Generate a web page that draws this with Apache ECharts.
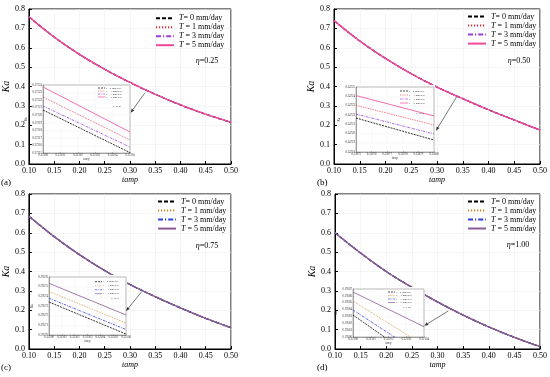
<!DOCTYPE html>
<html><head><meta charset="utf-8">
<script src="https://cdn.jsdelivr.net/npm/echarts@6/dist/echarts.min.js"></script>
<style>html,body{margin:0;padding:0;background:#fff}#c{width:550px;height:377px}</style>
</head><body><div id="c"></div>
<script>
// ---------- data ----------
const tamp = [0.10, 0.15, 0.20, 0.25, 0.30, 0.35, 0.40, 0.45, 0.50];
const kaA = [0.760, 0.655, 0.566, 0.489, 0.421, 0.360, 0.305, 0.257, 0.215]; // eta=0.25
const kaB = [0.740, 0.635, 0.545, 0.466, 0.397, 0.337, 0.280, 0.227, 0.175]; // eta=0.50
const kaC = [0.685, 0.580, 0.487, 0.405, 0.333, 0.270, 0.212, 0.158, 0.110]; // eta=0.75
const kaD = [0.600, 0.495, 0.400, 0.318, 0.243, 0.175, 0.114, 0.060, 0.012]; // eta=1.00
const tValues = ['0', '1', '3', '5'];
const etaLabels = ['0.25', '0.50', '0.75', '1.00'];
const panelLabels = ['(a)', '(b)', '(c)', '(d)'];
const xTicksMain = { min: 0.10, max: 0.50, step: 0.05 };
const yTicksMain = { min: 0.0, max: 0.8, step: 0.1 };

// zoomed insets: x ends, y values for T = 0, 1, 3, 5
const insAx = [0.33100, 0.33105];
const insA = { T0: [0.3722069, 0.3721505], T1: [0.3722241, 0.3721672], T3: [0.3722122, 0.3721579], T5: [0.3722374, 0.3721778] };
const insAy = { min: 0.37215, max: 0.37224 };
const insBx = [0.33875, 0.33880];
const insB = { T0: [0.3472166, 0.3471929], T1: [0.3472303, 0.3472091], T3: [0.3472209, 0.3471994], T5: [0.3472408, 0.3472188] };
const insBy = { min: 0.34718, max: 0.34725 };
const insCx = [0.32500, 0.32506];
const insC = { T0: [0.2957341, 0.2957010], T1: [0.2957450, 0.2957124], T3: [0.2957380, 0.2957057], T5: [0.2957535, 0.2957207] };
const insCy = { min: 0.29570, max: 0.29576 };
const insDx = [0.32100, 0.32104];
const insD = { T0: [0.1958321, 0.1957596], T1: [0.1958525, 0.1957876], T3: [0.1958394, 0.1957720], T5: [0.1958656, 0.1958150] };
const insDy = { min: 0.19580, max: 0.19587 };

// ---------- styling ----------
const FONT = 'Liberation Serif, "Times New Roman", serif';
const palAB = ['#000000', '#e8283c', '#9b3fd8', '#f0489a'];
const palCD = ['#000000', '#c8861a', '#3040e0', '#8a5a96'];
const dashMain = [[4, 2], [1.2, 1.8], [5, 2, 1.2, 2], 'solid'];
const dashIns = [[2, 1], [0.8, 1], [2.5, 1, 0.8, 1], 'solid'];

const mainGrids = [
  { left: 27, top: 9, width: 204, height: 155 },
  { left: 334, top: 9, width: 206, height: 155 },
  { left: 27, top: 194, width: 204, height: 155 },
  { left: 335, top: 194, width: 205, height: 155 }
];
const insetGrids = [
  { left: 43, top: 85, width: 87, height: 68 },
  { left: 356, top: 87, width: 78, height: 65 },
  { left: 49, top: 277, width: 77, height: 58 },
  { left: 353, top: 289, width: 71, height: 48 }
];
const insetBoxes = [[32, 83, 99, 75], [340, 85, 95, 73], [33, 275, 94, 71], [341, 287, 84, 58]];
const mainLegendPos = [[155, 13.7, 9.2], [467, 12.1, 9.2], [157, 197.1, 9.33], [467, 197, 9.6]];
// inset legend: icon x, first row y, row step, icon width
const insLegendPos = [[98, 88, 3, 7], [400, 91, 4, 8], [95, 281.7, 4, 7], [388, 292, 3.5, 7]];
const etaPos = [[207, 61], [519, 61], [207, 246], [518, 245]];
const insEtaPos = [[117, 106], [420, 113], [115, 298], [407, 307]];
const panelPos = [[1, 183], [317, 183], [1, 368], [317, 368]];
const arrows = [[145, 92.7, 130.7, 112.7], [456.7, 96.7, 436, 130.7], [141.7, 291.7, 126, 311], [448.3, 311, 424.3, 325.7]];

const mainData = [kaA, kaB, kaC, kaD];
const insData = [insA, insB, insC, insD];
const insX = [insAx, insBx, insCx, insDx];
const insY = [insAy, insBy, insCy, insDy];
const pals = [palAB, palAB, palCD, palCD];
const panelKeys = ['A', 'B', 'C', 'D'];

function legendText(name) {
  const t = name.slice(-1);
  return t === '0' ? '{i|T}= 0 mm/day' : '{i|T} = ' + t + ' mm/day';
}

const grid = [], xAxis = [], yAxis = [], series = [], legend = [], graphic = [];

for (let p = 0; p < 4; p++) {
  const g = mainGrids[p];
  grid.push(Object.assign({ show: true, borderColor: '#000', borderWidth: 1, backgroundColor: 'transparent', z: 0 }, g));
  xAxis.push({
    type: 'value', gridIndex: p, min: xTicksMain.min, max: xTicksMain.max, interval: xTicksMain.step,
    axisLine: { show: true, lineStyle: { color: '#000', width: 1 } },
    axisTick: { inside: true, length: 3, lineStyle: { color: '#000' } },
    axisLabel: { fontFamily: FONT, fontSize: 8, color: '#000', margin: 3, formatter: v => v.toFixed(2) },
    splitLine: { show: true, lineStyle: { color: '#efefef', width: 0.6 } },
    name: 'tamp', nameLocation: 'middle', nameGap: 12,
    nameTextStyle: { fontFamily: FONT, fontStyle: 'italic', fontSize: 8, color: '#000' }
  });
  yAxis.push({
    type: 'value', gridIndex: p, min: yTicksMain.min, max: yTicksMain.max, interval: yTicksMain.step,
    axisLine: { show: true, lineStyle: { color: '#000', width: 1 } },
    axisTick: { inside: true, length: 3, lineStyle: { color: '#000' } },
    axisLabel: { fontFamily: FONT, fontSize: 8, color: '#000', margin: 4, formatter: v => v.toFixed(1) },
    splitLine: { show: true, lineStyle: { color: '#efefef', width: 0.6 } },
    name: 'Ka', nameLocation: 'middle', nameGap: 13,
    nameTextStyle: { fontFamily: FONT, fontStyle: 'italic', fontSize: 10, color: '#000' }
  });
  const names = [];
  for (let k = 0; k < 4; k++) {
    const nm = panelKeys[p] + tValues[k];
    names.push(nm);
    series.push({
      type: 'line', name: nm, xAxisIndex: p, yAxisIndex: p, smooth: 0.35, symbol: 'none',
      data: tamp.map((x, i) => [x, mainData[p][i]]),
      lineStyle: { color: pals[p][k], width: 1.3, type: dashMain[k] },
      itemStyle: { color: pals[p][k] }, z: 2 + k
    });
  }
  const lp = mainLegendPos[p];
  legend.push({
    data: names, left: lp[0], top: lp[1], orient: 'vertical', padding: 0,
    itemWidth: 18, itemHeight: lp[2], itemGap: 0, selectedMode: false,
    itemStyle: { opacity: 0 },
    formatter: legendText,
    textStyle: { fontFamily: FONT, fontSize: 8, color: '#000', lineHeight: 9,
      rich: { i: { fontFamily: FONT, fontSize: 8, fontStyle: 'italic', color: '#000', lineHeight: 9 } } }
  });
}

for (let p = 0; p < 4; p++) {
  const gi = 4 + p;
  grid.push(Object.assign({ show: true, borderColor: '#777', borderWidth: 0.6, backgroundColor: '#fff', z: 11 }, insetGrids[p]));
  xAxis.push({
    type: 'value', gridIndex: gi, min: insX[p][0], max: insX[p][1], interval: 0.00001, z: 12,
    axisLine: { show: true, lineStyle: { color: '#777', width: 0.6 } },
    axisTick: { inside: true, length: 1, lineStyle: { color: '#777', width: 0.5 } },
    axisLabel: { fontFamily: FONT, fontSize: 3, color: '#333', margin: 1, formatter: v => v.toFixed(5) },
    splitLine: { show: true, lineStyle: { color: '#eeeeee', width: 0.4 } },
    name: 'tamp', nameLocation: 'middle', nameGap: 4,
    nameTextStyle: { fontFamily: FONT, fontStyle: 'italic', fontSize: 3, color: '#333' }
  });
  yAxis.push({
    type: 'value', gridIndex: gi, min: insY[p].min, max: insY[p].max, interval: 0.00001, z: 12,
    axisLine: { show: true, lineStyle: { color: '#777', width: 0.6 } },
    axisTick: { inside: true, length: 1, lineStyle: { color: '#777', width: 0.5 } },
    axisLabel: { fontFamily: FONT, fontSize: 3, color: '#333', margin: 1, formatter: v => v.toFixed(5) },
    splitLine: { show: true, lineStyle: { color: '#eeeeee', width: 0.4 } },
    name: 'Ka', nameLocation: 'middle', nameGap: 9,
    nameTextStyle: { fontFamily: FONT, fontStyle: 'italic', fontSize: 3.5, color: '#333' }
  });
  for (let k = 0; k < 4; k++) {
    const nm = 'i' + panelKeys[p] + tValues[k];
    const ys = insData[p]['T' + tValues[k]];
    series.push({
      type: 'line', name: nm, xAxisIndex: gi, yAxisIndex: gi, symbol: 'none', clip: true,
      data: insX[p].map((x, i) => [x, ys[i]]),
      lineStyle: { color: pals[p][k], width: 0.8, type: dashIns[k] },
      itemStyle: { color: pals[p][k] }, z: 13
    });
    // inset legend entry (drawn as graphic)
    const lp = insLegendPos[p];
    const ry = lp[1] + k * lp[2];
    const dsh = dashIns[k];
    graphic.push({ type: 'line', z: 20, shape: { x1: lp[0], y1: ry, x2: lp[0] + lp[3], y2: ry },
      style: { stroke: pals[p][k], lineWidth: 0.7, lineDash: dsh === 'solid' ? null : dsh } });
    graphic.push({ type: 'text', z: 20, x: lp[0] + lp[3] + 1, y: ry,
      style: { text: legendText(nm), fontFamily: FONT, fontSize: 2.8, fill: '#444', align: 'left', verticalAlign: 'middle',
        rich: { i: { fontFamily: FONT, fontSize: 2.8, fontStyle: 'italic', fill: '#444' } } } });
  }
}

// graphics: inset white boxes, eta labels, panel labels, arrows
for (let p = 0; p < 4; p++) {
  const b = insetBoxes[p];
  graphic.push({ type: 'rect', z: 10, shape: { x: b[0], y: b[1], width: b[2], height: b[3] }, style: { fill: '#fff' } });
  graphic.push({ type: 'text', z: 20, x: etaPos[p][0], y: etaPos[p][1],
    style: { text: '{i|η}=' + etaLabels[p], fontFamily: FONT, fontSize: 8, fill: '#000', align: 'center', verticalAlign: 'middle',
      rich: { i: { fontFamily: FONT, fontSize: 8, fontStyle: 'italic', fill: '#000' } } } });
  graphic.push({ type: 'text', z: 20, x: insEtaPos[p][0], y: insEtaPos[p][1],
    style: { text: '{i|η}=' + etaLabels[p], fontFamily: FONT, fontSize: 2.8, fill: '#444', align: 'center', verticalAlign: 'middle',
      rich: { i: { fontFamily: FONT, fontSize: 2.8, fontStyle: 'italic', fill: '#444' } } } });
  graphic.push({ type: 'text', z: 20, x: panelPos[p][0], y: panelPos[p][1],
    style: { text: panelLabels[p], fontFamily: FONT, fontSize: 9, fill: '#000', align: 'left', verticalAlign: 'middle' } });
  const a = arrows[p];
  const dx = a[2] - a[0], dy = a[3] - a[1], L = Math.hypot(dx, dy);
  const ux = dx / L, uy = dy / L, hl = 4, hw = 1.6;
  const bx = a[2] - ux * hl, by = a[3] - uy * hl;
  graphic.push({ type: 'line', z: 20, shape: { x1: a[0], y1: a[1], x2: bx, y2: by }, style: { stroke: '#555', lineWidth: 0.8 } });
  graphic.push({ type: 'polygon', z: 20, shape: { points: [[a[2], a[3]], [bx - uy * hw, by + ux * hw], [bx + uy * hw, by - ux * hw]] }, style: { fill: '#333' } });
}

const chart = echarts.init(document.getElementById('c'), null, { renderer: 'canvas' });
chart.setOption({ animation: false, backgroundColor: '#fff', grid, xAxis, yAxis, series, legend, graphic });
</script>
</body></html>
